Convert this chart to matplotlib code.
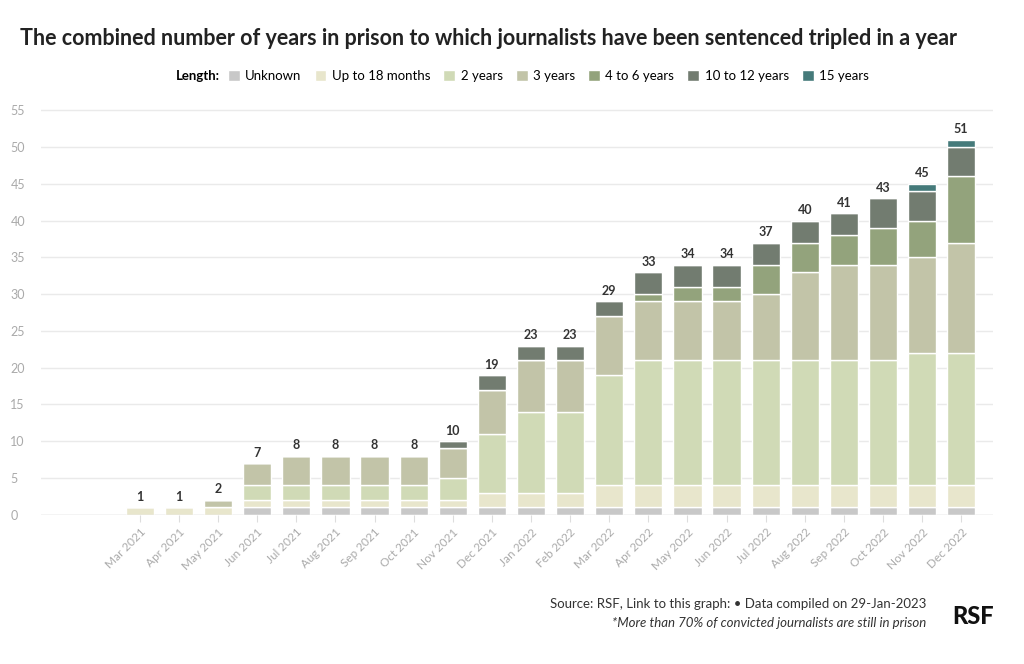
import matplotlib.pyplot as plt
import numpy as np
from matplotlib.offsetbox import HPacker

plt.rcParams['font.family'] = ['Lato', 'DejaVu Sans']

months = ['Mar 2021', 'Apr 2021', 'May 2021', 'Jun 2021', 'Jul 2021', 'Aug 2021', 'Sep 2021',
          'Oct 2021', 'Nov 2021', 'Dec 2021', 'Jan 2022', 'Feb 2022', 'Mar 2022', 'Apr 2022',
          'May 2022', 'Jun 2022', 'Jul 2022', 'Aug 2022', 'Sep 2022', 'Oct 2022', 'Nov 2022', 'Dec 2022']
unknown = [0, 0, 0, 1, 1, 1, 1, 1, 1, 1, 1, 1, 1, 1, 1, 1, 1, 1, 1, 1, 1, 1]
upto18 = [1, 1, 1, 1, 1, 1, 1, 1, 1, 2, 2, 2, 3, 3, 3, 3, 3, 3, 3, 3, 3, 3]
y2 = [0, 0, 0, 2, 2, 2, 2, 2, 3, 8, 11, 11, 15, 17, 17, 17, 17, 17, 17, 17, 18, 18]
y3 = [0, 0, 1, 3, 4, 4, 4, 4, 4, 6, 7, 7, 8, 8, 8, 8, 9, 12, 13, 13, 13, 15]
y4_6 = [0, 0, 0, 0, 0, 0, 0, 0, 0, 0, 0, 0, 0, 1, 2, 2, 4, 4, 4, 5, 5, 9]
y10_12 = [0, 0, 0, 0, 0, 0, 0, 0, 1, 2, 2, 2, 2, 3, 3, 3, 3, 3, 3, 4, 4, 4]
y15 = [0] * 20 + [1, 1]

series = [('Unknown', unknown, '#c8c8c8'), ('Up to 18 months', upto18, '#e8e6cc'),
          ('2 years', y2, '#d0dab6'), ('3 years', y3, '#c2c4a8'),
          ('4 to 6 years', y4_6, '#93a37c'), ('10 to 12 years', y10_12, '#727c70'),
          ('15 years', y15, '#457a7a')]

fig = plt.figure(figsize=(10.24, 6.64), dpi=100)
ax = fig.add_axes([0.04, 0.225, 0.93, 0.62])
x = np.arange(len(months))
bottom = np.zeros(len(months))
for name, vals, col in series:
    v = np.array(vals)
    ax.bar(x, v, 0.72, bottom=bottom, color=col, edgecolor='white', linewidth=1, label=name)
    bottom += v
for xi, t in zip(x, bottom):
    ax.text(xi, t + 0.6, str(int(t)), ha='center', va='bottom', fontsize=9, fontweight='bold', color='#333333')

ax.set_xlim(-2.53, 21.82)
ax.set_ylim(0, 56)
ax.set_yticks(range(0, 56, 5))
ax.tick_params(axis='y', length=0, labelsize=9, labelcolor='#aaaaaa', pad=-2)
for lab in ax.get_yticklabels():
    lab.set_horizontalalignment('left')
    lab.set_x(-0.035)
ax.set_xticks(x)
ax.set_xticklabels(months, rotation=45, ha='right', rotation_mode='anchor', fontsize=8.5, color='#aaaaaa')
ax.tick_params(axis='x', length=5, color='#dddddd')
ax.grid(axis='y', color='#eaeaea', linewidth=1)
ax.set_axisbelow(True)
for s in ax.spines.values():
    s.set_visible(False)
ax.axhline(0, color='#dddddd', linewidth=1)

fig.text(0.02, 0.932, 'The combined number of years in prison to which journalists have been sentenced tripled in a year',
         fontsize=15.5, fontweight='bold', color='#222222')
leg = fig.legend(loc='center', bbox_to_anchor=(0.51, 0.885), ncol=7, frameon=False, fontsize=9.5,
                 handlelength=0.9, handleheight=0.9, handletextpad=0.4, columnspacing=1.0,
                 title='Length:', title_fontproperties={'weight': 'bold', 'size': 9.5})
title = leg._legend_title_box
leg._legend_box._children = [HPacker(children=[title] + leg._legend_box._children[1:], pad=0, sep=6, align='center')]

fig.text(0.905, 0.085, 'Source: RSF, Link to this graph: • Data compiled on 29-Jan-2023',
         ha='right', fontsize=9.5, color='#333333')
fig.text(0.905, 0.055, '*More than 70% of convicted journalists are still in prison',
         ha='right', fontsize=9.5, style='italic', color='#333333')
fig.text(0.93, 0.06, 'RSF', fontsize=17, fontweight='black', color='#111111')

fig.savefig('out.png', dpi=100, facecolor='white')
